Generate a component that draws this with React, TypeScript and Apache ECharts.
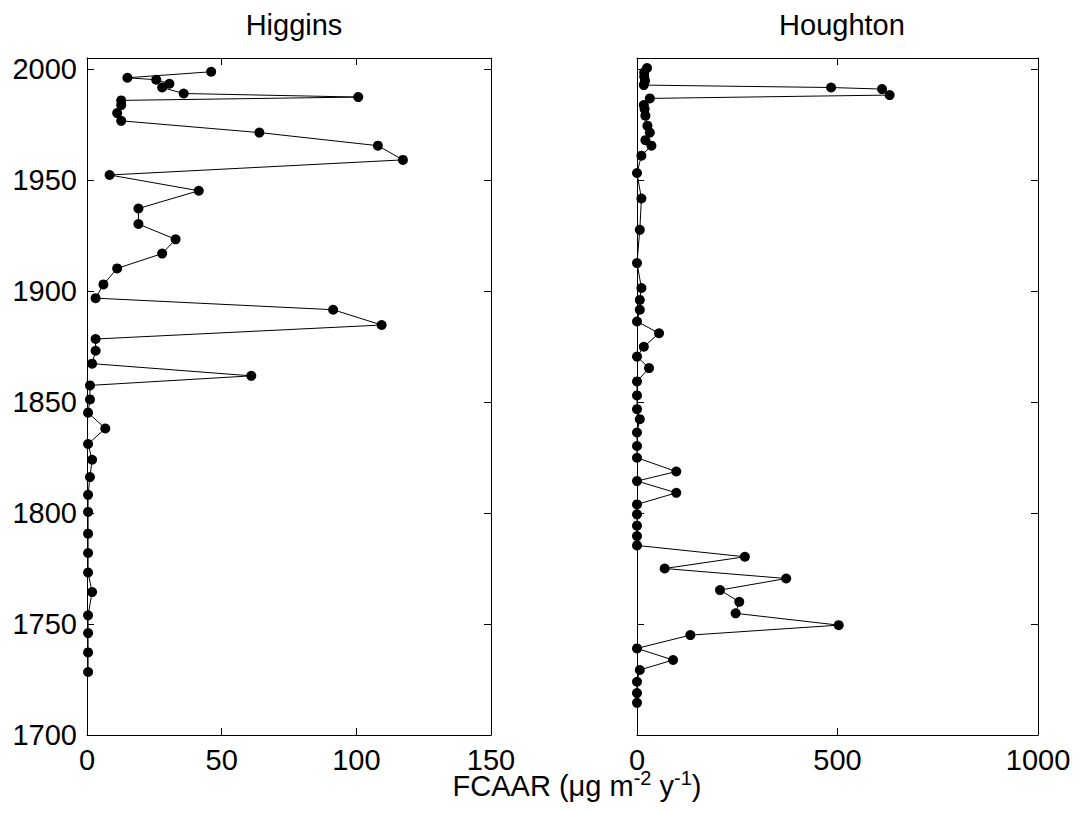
import React, { useEffect, useRef } from "react";
import * as echarts from "echarts";

const higginsX = [46.1, 15.0, 25.7, 30.6, 27.9, 35.9, 100.7, 12.7, 12.7, 11.2, 12.7, 64.0, 108.0, 117.3, 8.4, 41.5, 19.1, 19.1, 32.9, 27.9, 11.2, 6.1, 3.2, 91.4, 109.4, 3.2, 3.2, 1.9, 61.0, 1.1, 1.1, 0.4, 6.8, 0.4, 1.9, 1.1, 0.4, 0.4, 0.4, 0.4, 0.4, 1.9, 0.4, 0.4, 0.4, 0.4];
const higginsYear = [1998.8, 1996.1, 1995.2, 1993.4, 1991.7, 1989.0, 1987.4, 1985.9, 1983.8, 1980.2, 1976.7, 1971.4, 1965.5, 1959.1, 1952.3, 1945.2, 1937.2, 1930.2, 1923.3, 1916.9, 1910.2, 1903.0, 1896.8, 1891.6, 1884.7, 1878.4, 1873.1, 1867.3, 1861.8, 1857.5, 1851.2, 1845.2, 1838.1, 1831.1, 1824.0, 1816.2, 1808.2, 1800.5, 1790.7, 1782.0, 1773.2, 1764.4, 1753.9, 1745.9, 1737.2, 1728.4];

const houghtonX = [25, 18, 18, 20, 17, 484, 611, 630, 32, 17, 19, 21, 26, 32, 21, 36, 11, 0, 11, 7, 0, 11, 7, 7, 0, 55, 17, 0, 30, 0, 0, 0, 7, 0, 0, 0, 98, 0, 98, 0, 0, 0, 0, 0, 269, 69, 372, 207, 255, 246, 503, 133, 0, 90, 7, 0, 0, 0];
const houghtonYear = [2000.5, 1998.5, 1996.7, 1994.7, 1992.8, 1991.7, 1991.0, 1988.3, 1986.8, 1983.8, 1982.0, 1979.0, 1974.5, 1971.4, 1968.0, 1965.5, 1961.0, 1953.2, 1941.7, 1927.6, 1912.6, 1901.4, 1896.0, 1891.6, 1886.3, 1881.0, 1874.9, 1870.5, 1865.3, 1859.3, 1853.0, 1846.8, 1842.3, 1836.3, 1830.2, 1824.9, 1818.7, 1814.4, 1809.1, 1803.9, 1799.4, 1794.3, 1789.6, 1785.4, 1780.3, 1775.0, 1770.5, 1765.3, 1760.0, 1754.8, 1749.5, 1745.0, 1739.0, 1733.8, 1729.3, 1724.0, 1718.9, 1714.5];

const panelTitles = ["Higgins", "Houghton"];
const xAxisName = "FCAAR (μg m{sup|-2} y{sup|-1})";

const FONT = "Liberation Sans, Arial, sans-serif";

export default function App() {
  const ref = useRef<HTMLDivElement>(null);
  useEffect(() => {
    if (!ref.current) return;
    const chart = echarts.init(ref.current, null, { renderer: "svg" });
    const axisLine = { show: true, onZero: false, lineStyle: { color: "#000", width: 1 } };
    const tick = { show: true, inside: true, length: 7, lineStyle: { color: "#000", width: 1 } };
    const lbl = { color: "#000", fontSize: 29, fontFamily: FONT, formatter: (v: number) => String(v) };
    const xAx = (grid: number, max: number, interval: number, pos: string, show: boolean) => ({
      type: "value", gridIndex: grid, position: pos, min: 0, max, interval,
      axisLine, axisTick: tick, splitLine: { show: false },
      axisLabel: { show, ...lbl, margin: 10 },
    });
    const yAx = (grid: number, pos: string, show: boolean) => ({
      type: "value", gridIndex: grid, position: pos, min: 1700, max: 2005, interval: 50,
      axisLine, axisTick: tick, splitLine: { show: false },
      axisLabel: { show, ...lbl, margin: 10, showMaxLabel: false },
    });
    const lineSeries = (xs: number[], ys: number[], idx: number) => ({
      type: "line",
      xAxisIndex: idx * 2, yAxisIndex: idx * 2,
      data: xs.map((v, i) => [v, ys[i]]),
      symbol: "circle", symbolSize: 10,
      itemStyle: { color: "#000" },
      lineStyle: { color: "#000", width: 1 },
      silent: true,
    });
    const titleStyle = { fontSize: 29, fontWeight: "normal", color: "#000", fontFamily: FONT };
    chart.setOption({
      animation: false,
      backgroundColor: "#fff",
      title: [
        { text: panelTitles[0], left: 289, top: 5, textAlign: "center", textStyle: titleStyle },
        { text: panelTitles[1], left: 837, top: 5, textAlign: "center", textStyle: titleStyle },
      ],
      grid: [
        { left: 87, top: 58, width: 404, height: 677 },
        { left: 637, top: 58, width: 401, height: 677 },
      ],
      xAxis: [
        xAx(0, 150, 50, "bottom", true),
        xAx(0, 150, 50, "top", false),
        xAx(1, 1000, 500, "bottom", true),
        xAx(1, 1000, 500, "top", false),
      ],
      yAxis: [
        yAx(0, "left", true),
        yAx(0, "right", false),
        yAx(1, "left", false),
        yAx(1, "right", false),
      ],
      series: [
        lineSeries(higginsX, higginsYear, 0),
        lineSeries(houghtonX, houghtonYear, 1),
      ],
      graphic: [
        {
          type: "text",
          x: 577, y: 786,
          style: {
            text: xAxisName,
            fontSize: 29, fontFamily: FONT, fill: "#000",
            textAlign: "center", textVerticalAlign: "middle",
            lineHeight: 36,
            rich: {
              sup: { fontSize: 20, fontFamily: FONT, fill: "#000", verticalAlign: "top", lineHeight: 20 },
            },
          },
        },
      ],
    });
    return () => chart.dispose();
  }, []);
  return <div ref={ref} style={{ position: "fixed", left: 0, top: 0, width: 1081, height: 813, background: "#fff" }} />;
}
